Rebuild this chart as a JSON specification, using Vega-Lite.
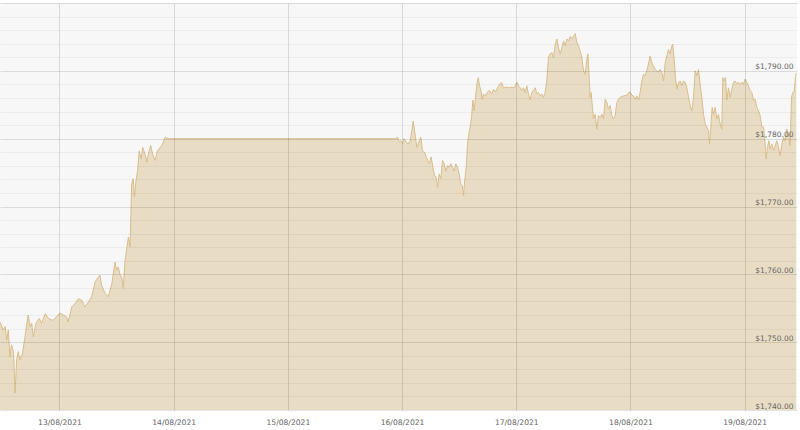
{
  "$schema": "https://vega.github.io/schema/vega-lite/v6.json",
  "width": 797,
  "height": 407,
  "autosize": {"type": "none"},
  "padding": {"left": 0, "top": 3, "right": 3, "bottom": 20},
  "background": "white",
  "config": {
    "view": {"fill": "#f7f7f7", "stroke": null},
    "font": "DejaVu Sans"
  },
  "data": {
    "values": [
      {"t": "2021-08-12T11:30", "p": 1753.0},
      {"t": "2021-08-12T12:10", "p": 1751.8},
      {"t": "2021-08-12T12:35", "p": 1752.3},
      {"t": "2021-08-12T12:55", "p": 1750.3},
      {"t": "2021-08-12T13:15", "p": 1751.8},
      {"t": "2021-08-12T13:35", "p": 1747.8},
      {"t": "2021-08-12T13:55", "p": 1749.6},
      {"t": "2021-08-12T14:20", "p": 1748.6},
      {"t": "2021-08-12T14:40", "p": 1742.5},
      {"t": "2021-08-12T15:00", "p": 1747.4},
      {"t": "2021-08-12T15:20", "p": 1748.6},
      {"t": "2021-08-12T15:40", "p": 1747.4},
      {"t": "2021-08-12T16:15", "p": 1748.4},
      {"t": "2021-08-12T16:45", "p": 1750.8},
      {"t": "2021-08-12T17:25", "p": 1754.0},
      {"t": "2021-08-12T17:50", "p": 1752.3},
      {"t": "2021-08-12T18:10", "p": 1752.8},
      {"t": "2021-08-12T18:30", "p": 1750.8},
      {"t": "2021-08-12T19:05", "p": 1752.8},
      {"t": "2021-08-12T19:45", "p": 1753.5},
      {"t": "2021-08-12T20:15", "p": 1752.8},
      {"t": "2021-08-12T21:00", "p": 1754.2},
      {"t": "2021-08-12T21:40", "p": 1753.5},
      {"t": "2021-08-12T22:40", "p": 1753.2},
      {"t": "2021-08-13T00:05", "p": 1754.3},
      {"t": "2021-08-13T00:50", "p": 1754.0},
      {"t": "2021-08-13T01:30", "p": 1753.7},
      {"t": "2021-08-13T01:50", "p": 1753.0},
      {"t": "2021-08-13T02:35", "p": 1755.2},
      {"t": "2021-08-13T03:15", "p": 1755.7},
      {"t": "2021-08-13T04:00", "p": 1756.4},
      {"t": "2021-08-13T04:40", "p": 1756.2},
      {"t": "2021-08-13T05:20", "p": 1755.2},
      {"t": "2021-08-13T06:05", "p": 1755.9},
      {"t": "2021-08-13T06:45", "p": 1756.7},
      {"t": "2021-08-13T07:30", "p": 1758.9},
      {"t": "2021-08-13T08:10", "p": 1759.6},
      {"t": "2021-08-13T08:30", "p": 1759.9},
      {"t": "2021-08-13T08:50", "p": 1758.4},
      {"t": "2021-08-13T09:35", "p": 1757.2},
      {"t": "2021-08-13T10:15", "p": 1756.7},
      {"t": "2021-08-13T11:00", "p": 1758.6},
      {"t": "2021-08-13T11:40", "p": 1761.8},
      {"t": "2021-08-13T12:00", "p": 1760.6},
      {"t": "2021-08-13T12:20", "p": 1761.1},
      {"t": "2021-08-13T12:45", "p": 1759.9},
      {"t": "2021-08-13T13:05", "p": 1759.6},
      {"t": "2021-08-13T13:25", "p": 1757.9},
      {"t": "2021-08-13T13:45", "p": 1761.8},
      {"t": "2021-08-13T14:10", "p": 1764.0},
      {"t": "2021-08-13T14:30", "p": 1765.5},
      {"t": "2021-08-13T14:50", "p": 1764.0},
      {"t": "2021-08-13T15:10", "p": 1773.3},
      {"t": "2021-08-13T15:30", "p": 1774.1},
      {"t": "2021-08-13T15:45", "p": 1771.4},
      {"t": "2021-08-13T16:05", "p": 1773.8},
      {"t": "2021-08-13T16:25", "p": 1775.3},
      {"t": "2021-08-13T16:45", "p": 1778.2},
      {"t": "2021-08-13T17:10", "p": 1777.0},
      {"t": "2021-08-13T17:30", "p": 1778.7},
      {"t": "2021-08-13T18:00", "p": 1777.7},
      {"t": "2021-08-13T18:20", "p": 1776.5},
      {"t": "2021-08-13T18:40", "p": 1777.7},
      {"t": "2021-08-13T19:10", "p": 1779.0},
      {"t": "2021-08-13T19:35", "p": 1777.7},
      {"t": "2021-08-13T20:05", "p": 1776.8},
      {"t": "2021-08-13T20:35", "p": 1778.2},
      {"t": "2021-08-13T21:10", "p": 1778.7},
      {"t": "2021-08-13T21:40", "p": 1779.2},
      {"t": "2021-08-13T22:10", "p": 1780.2},
      {"t": "2021-08-13T22:50", "p": 1780.0},
      {"t": "2021-08-15T22:33", "p": 1780.0},
      {"t": "2021-08-15T23:03", "p": 1780.2},
      {"t": "2021-08-15T23:24", "p": 1779.5},
      {"t": "2021-08-15T23:45", "p": 1779.7},
      {"t": "2021-08-16T00:06", "p": 1779.3},
      {"t": "2021-08-16T00:27", "p": 1780.0},
      {"t": "2021-08-16T00:52", "p": 1779.5},
      {"t": "2021-08-16T01:17", "p": 1779.2},
      {"t": "2021-08-16T01:42", "p": 1779.7},
      {"t": "2021-08-16T02:03", "p": 1781.2},
      {"t": "2021-08-16T02:20", "p": 1782.6},
      {"t": "2021-08-16T02:41", "p": 1780.9},
      {"t": "2021-08-16T03:06", "p": 1778.7},
      {"t": "2021-08-16T03:32", "p": 1779.5},
      {"t": "2021-08-16T03:57", "p": 1780.2},
      {"t": "2021-08-16T04:18", "p": 1778.2},
      {"t": "2021-08-16T04:43", "p": 1778.0},
      {"t": "2021-08-16T05:04", "p": 1777.3},
      {"t": "2021-08-16T05:25", "p": 1776.8},
      {"t": "2021-08-16T05:46", "p": 1776.3},
      {"t": "2021-08-16T06:07", "p": 1777.3},
      {"t": "2021-08-16T06:28", "p": 1775.8},
      {"t": "2021-08-16T06:49", "p": 1774.6},
      {"t": "2021-08-16T07:10", "p": 1774.3},
      {"t": "2021-08-16T07:27", "p": 1772.8},
      {"t": "2021-08-16T07:48", "p": 1774.8},
      {"t": "2021-08-16T08:09", "p": 1774.1},
      {"t": "2021-08-16T08:30", "p": 1776.8},
      {"t": "2021-08-16T08:51", "p": 1776.3},
      {"t": "2021-08-16T09:12", "p": 1775.2},
      {"t": "2021-08-16T09:33", "p": 1776.0},
      {"t": "2021-08-16T09:54", "p": 1775.8},
      {"t": "2021-08-16T10:15", "p": 1776.3},
      {"t": "2021-08-16T10:36", "p": 1775.8},
      {"t": "2021-08-16T10:57", "p": 1775.2},
      {"t": "2021-08-16T11:18", "p": 1776.3},
      {"t": "2021-08-16T11:39", "p": 1775.8},
      {"t": "2021-08-16T12:00", "p": 1774.8},
      {"t": "2021-08-16T12:21", "p": 1773.3},
      {"t": "2021-08-16T12:38", "p": 1773.1},
      {"t": "2021-08-16T12:55", "p": 1771.6},
      {"t": "2021-08-16T13:08", "p": 1773.6},
      {"t": "2021-08-16T13:29", "p": 1775.8},
      {"t": "2021-08-16T13:45", "p": 1779.2},
      {"t": "2021-08-16T14:02", "p": 1780.7},
      {"t": "2021-08-16T14:19", "p": 1781.7},
      {"t": "2021-08-16T14:36", "p": 1783.1},
      {"t": "2021-08-16T14:53", "p": 1785.7},
      {"t": "2021-08-16T15:09", "p": 1784.1},
      {"t": "2021-08-16T15:26", "p": 1786.1},
      {"t": "2021-08-16T15:43", "p": 1788.0},
      {"t": "2021-08-16T16:00", "p": 1789.0},
      {"t": "2021-08-16T16:17", "p": 1787.8},
      {"t": "2021-08-16T16:34", "p": 1787.1},
      {"t": "2021-08-16T16:50", "p": 1785.8},
      {"t": "2021-08-16T17:07", "p": 1786.6},
      {"t": "2021-08-16T17:32", "p": 1786.3},
      {"t": "2021-08-16T17:58", "p": 1786.9},
      {"t": "2021-08-16T18:23", "p": 1787.1},
      {"t": "2021-08-16T18:48", "p": 1786.6},
      {"t": "2021-08-16T19:13", "p": 1787.3},
      {"t": "2021-08-16T19:38", "p": 1786.9},
      {"t": "2021-08-16T20:04", "p": 1787.5},
      {"t": "2021-08-16T20:29", "p": 1788.0},
      {"t": "2021-08-16T20:54", "p": 1788.3},
      {"t": "2021-08-16T21:19", "p": 1787.5},
      {"t": "2021-08-16T21:53", "p": 1787.6},
      {"t": "2021-08-16T22:27", "p": 1787.5},
      {"t": "2021-08-16T23:00", "p": 1787.6},
      {"t": "2021-08-16T23:34", "p": 1787.5},
      {"t": "2021-08-17T00:08", "p": 1788.3},
      {"t": "2021-08-17T00:33", "p": 1787.7},
      {"t": "2021-08-17T00:49", "p": 1787.5},
      {"t": "2021-08-17T01:10", "p": 1787.1},
      {"t": "2021-08-17T01:31", "p": 1787.5},
      {"t": "2021-08-17T01:52", "p": 1786.8},
      {"t": "2021-08-17T02:13", "p": 1787.8},
      {"t": "2021-08-17T02:34", "p": 1786.6},
      {"t": "2021-08-17T02:55", "p": 1785.7},
      {"t": "2021-08-17T03:16", "p": 1786.8},
      {"t": "2021-08-17T03:37", "p": 1787.1},
      {"t": "2021-08-17T03:58", "p": 1787.5},
      {"t": "2021-08-17T04:19", "p": 1786.6},
      {"t": "2021-08-17T04:40", "p": 1786.8},
      {"t": "2021-08-17T05:01", "p": 1786.3},
      {"t": "2021-08-17T05:22", "p": 1786.6},
      {"t": "2021-08-17T05:43", "p": 1786.1},
      {"t": "2021-08-17T06:04", "p": 1786.8},
      {"t": "2021-08-17T06:25", "p": 1788.5},
      {"t": "2021-08-17T06:46", "p": 1792.0},
      {"t": "2021-08-17T07:07", "p": 1792.5},
      {"t": "2021-08-17T07:29", "p": 1792.7},
      {"t": "2021-08-17T07:49", "p": 1791.9},
      {"t": "2021-08-17T08:11", "p": 1793.9},
      {"t": "2021-08-17T08:32", "p": 1794.7},
      {"t": "2021-08-17T08:53", "p": 1793.4},
      {"t": "2021-08-17T09:14", "p": 1792.5},
      {"t": "2021-08-17T09:35", "p": 1793.4},
      {"t": "2021-08-17T09:56", "p": 1794.4},
      {"t": "2021-08-17T10:17", "p": 1793.7},
      {"t": "2021-08-17T10:38", "p": 1794.7},
      {"t": "2021-08-17T10:59", "p": 1794.4},
      {"t": "2021-08-17T11:20", "p": 1795.1},
      {"t": "2021-08-17T11:41", "p": 1794.7},
      {"t": "2021-08-17T12:02", "p": 1795.1},
      {"t": "2021-08-17T12:23", "p": 1795.5},
      {"t": "2021-08-17T12:44", "p": 1794.2},
      {"t": "2021-08-17T13:05", "p": 1793.7},
      {"t": "2021-08-17T13:26", "p": 1792.9},
      {"t": "2021-08-17T13:47", "p": 1792.0},
      {"t": "2021-08-17T14:08", "p": 1790.0},
      {"t": "2021-08-17T14:29", "p": 1789.5},
      {"t": "2021-08-17T14:50", "p": 1791.7},
      {"t": "2021-08-17T15:03", "p": 1792.5},
      {"t": "2021-08-17T15:15", "p": 1790.0},
      {"t": "2021-08-17T15:32", "p": 1786.1},
      {"t": "2021-08-17T15:44", "p": 1786.8},
      {"t": "2021-08-17T16:01", "p": 1784.6},
      {"t": "2021-08-17T16:14", "p": 1782.9},
      {"t": "2021-08-17T16:35", "p": 1783.6},
      {"t": "2021-08-17T16:56", "p": 1781.4},
      {"t": "2021-08-17T17:17", "p": 1783.4},
      {"t": "2021-08-17T17:38", "p": 1783.1},
      {"t": "2021-08-17T17:59", "p": 1783.6},
      {"t": "2021-08-17T18:20", "p": 1782.9},
      {"t": "2021-08-17T18:41", "p": 1785.8},
      {"t": "2021-08-17T19:02", "p": 1785.3},
      {"t": "2021-08-17T19:23", "p": 1784.4},
      {"t": "2021-08-17T19:44", "p": 1784.9},
      {"t": "2021-08-17T20:05", "p": 1783.4},
      {"t": "2021-08-17T20:26", "p": 1782.9},
      {"t": "2021-08-17T20:47", "p": 1783.4},
      {"t": "2021-08-17T21:08", "p": 1785.3},
      {"t": "2021-08-17T21:29", "p": 1785.8},
      {"t": "2021-08-17T21:50", "p": 1786.1},
      {"t": "2021-08-17T22:32", "p": 1786.3},
      {"t": "2021-08-17T23:14", "p": 1786.4},
      {"t": "2021-08-17T23:35", "p": 1786.8},
      {"t": "2021-08-17T23:56", "p": 1786.9},
      {"t": "2021-08-18T00:17", "p": 1786.4},
      {"t": "2021-08-18T00:38", "p": 1786.3},
      {"t": "2021-08-18T00:59", "p": 1785.8},
      {"t": "2021-08-18T01:20", "p": 1786.3},
      {"t": "2021-08-18T01:41", "p": 1785.7},
      {"t": "2021-08-18T02:02", "p": 1786.8},
      {"t": "2021-08-18T02:23", "p": 1788.5},
      {"t": "2021-08-18T02:44", "p": 1789.5},
      {"t": "2021-08-18T03:05", "p": 1789.3},
      {"t": "2021-08-18T03:26", "p": 1790.0},
      {"t": "2021-08-18T03:47", "p": 1791.0},
      {"t": "2021-08-18T04:08", "p": 1792.2},
      {"t": "2021-08-18T04:30", "p": 1791.2},
      {"t": "2021-08-18T04:50", "p": 1790.7},
      {"t": "2021-08-18T05:12", "p": 1790.2},
      {"t": "2021-08-18T05:33", "p": 1790.0},
      {"t": "2021-08-18T05:54", "p": 1789.8},
      {"t": "2021-08-18T06:15", "p": 1790.2},
      {"t": "2021-08-18T06:36", "p": 1789.7},
      {"t": "2021-08-18T06:57", "p": 1788.5},
      {"t": "2021-08-18T07:18", "p": 1791.2},
      {"t": "2021-08-18T07:39", "p": 1792.2},
      {"t": "2021-08-18T08:00", "p": 1793.2},
      {"t": "2021-08-18T08:21", "p": 1792.5},
      {"t": "2021-08-18T08:42", "p": 1793.7},
      {"t": "2021-08-18T08:54", "p": 1793.9},
      {"t": "2021-08-18T09:11", "p": 1791.7},
      {"t": "2021-08-18T09:28", "p": 1789.0},
      {"t": "2021-08-18T09:45", "p": 1787.3},
      {"t": "2021-08-18T10:06", "p": 1788.3},
      {"t": "2021-08-18T10:27", "p": 1788.5},
      {"t": "2021-08-18T10:48", "p": 1787.8},
      {"t": "2021-08-18T11:09", "p": 1788.5},
      {"t": "2021-08-18T11:30", "p": 1788.3},
      {"t": "2021-08-18T11:51", "p": 1787.5},
      {"t": "2021-08-18T12:12", "p": 1786.1},
      {"t": "2021-08-18T12:33", "p": 1784.9},
      {"t": "2021-08-18T12:54", "p": 1784.1},
      {"t": "2021-08-18T13:15", "p": 1786.1},
      {"t": "2021-08-18T13:36", "p": 1790.0},
      {"t": "2021-08-18T13:57", "p": 1789.3},
      {"t": "2021-08-18T14:18", "p": 1790.2},
      {"t": "2021-08-18T14:39", "p": 1788.0},
      {"t": "2021-08-18T15:00", "p": 1786.1},
      {"t": "2021-08-18T15:21", "p": 1783.6},
      {"t": "2021-08-18T15:42", "p": 1782.2},
      {"t": "2021-08-18T16:03", "p": 1781.7},
      {"t": "2021-08-18T16:24", "p": 1781.2},
      {"t": "2021-08-18T16:37", "p": 1779.2},
      {"t": "2021-08-18T16:53", "p": 1781.7},
      {"t": "2021-08-18T17:10", "p": 1784.6},
      {"t": "2021-08-18T17:27", "p": 1783.6},
      {"t": "2021-08-18T17:48", "p": 1784.6},
      {"t": "2021-08-18T18:09", "p": 1782.9},
      {"t": "2021-08-18T18:30", "p": 1783.6},
      {"t": "2021-08-18T18:51", "p": 1782.2},
      {"t": "2021-08-18T19:12", "p": 1781.4},
      {"t": "2021-08-18T19:25", "p": 1789.0},
      {"t": "2021-08-18T19:42", "p": 1788.5},
      {"t": "2021-08-18T19:58", "p": 1789.0},
      {"t": "2021-08-18T20:15", "p": 1785.7},
      {"t": "2021-08-18T20:36", "p": 1787.5},
      {"t": "2021-08-18T20:57", "p": 1786.1},
      {"t": "2021-08-18T21:18", "p": 1787.3},
      {"t": "2021-08-18T21:39", "p": 1788.3},
      {"t": "2021-08-18T22:00", "p": 1788.5},
      {"t": "2021-08-18T22:21", "p": 1788.1},
      {"t": "2021-08-18T22:42", "p": 1788.3},
      {"t": "2021-08-18T23:03", "p": 1788.0},
      {"t": "2021-08-18T23:24", "p": 1788.3},
      {"t": "2021-08-18T23:45", "p": 1788.0},
      {"t": "2021-08-19T00:06", "p": 1788.8},
      {"t": "2021-08-19T00:27", "p": 1788.3},
      {"t": "2021-08-19T00:48", "p": 1787.8},
      {"t": "2021-08-19T01:09", "p": 1787.1},
      {"t": "2021-08-19T01:30", "p": 1786.8},
      {"t": "2021-08-19T01:51", "p": 1785.7},
      {"t": "2021-08-19T02:12", "p": 1785.8},
      {"t": "2021-08-19T02:34", "p": 1784.6},
      {"t": "2021-08-19T02:54", "p": 1784.1},
      {"t": "2021-08-19T03:16", "p": 1783.4},
      {"t": "2021-08-19T03:37", "p": 1781.7},
      {"t": "2021-08-19T03:58", "p": 1781.7},
      {"t": "2021-08-19T04:19", "p": 1779.2},
      {"t": "2021-08-19T04:31", "p": 1777.0},
      {"t": "2021-08-19T04:48", "p": 1778.7},
      {"t": "2021-08-19T05:05", "p": 1779.7},
      {"t": "2021-08-19T05:22", "p": 1778.5},
      {"t": "2021-08-19T05:43", "p": 1779.2},
      {"t": "2021-08-19T06:04", "p": 1778.2},
      {"t": "2021-08-19T06:25", "p": 1779.0},
      {"t": "2021-08-19T06:46", "p": 1779.7},
      {"t": "2021-08-19T07:07", "p": 1778.7},
      {"t": "2021-08-19T07:28", "p": 1777.5},
      {"t": "2021-08-19T07:49", "p": 1779.2},
      {"t": "2021-08-19T08:10", "p": 1780.2},
      {"t": "2021-08-19T08:31", "p": 1779.7},
      {"t": "2021-08-19T08:52", "p": 1781.4},
      {"t": "2021-08-19T09:13", "p": 1780.7},
      {"t": "2021-08-19T09:34", "p": 1779.0},
      {"t": "2021-08-19T09:51", "p": 1786.1},
      {"t": "2021-08-19T10:07", "p": 1786.8},
      {"t": "2021-08-19T10:24", "p": 1786.9},
      {"t": "2021-08-19T10:37", "p": 1788.5},
      {"t": "2021-08-19T10:49", "p": 1789.7}
    ]
  },
  "mark": {
    "type": "area",
    "color": "#e9dcc4",
    "opacity": 1,
    "clip": true,
    "line": {"color": "#d9bf8b", "strokeWidth": 1}
  },
  "encoding": {
    "x": {
      "field": "t",
      "type": "temporal",
      "scale": {
        "domain": [
          {"year": 2021, "month": 8, "date": 12, "hours": 11, "minutes": 30},
          {"year": 2021, "month": 8, "date": 19, "hours": 11, "minutes": 0}
        ]
      },
      "axis": {
        "title": null,
        "format": "%d/%m/%Y",
        "values": [
          {"year": 2021, "month": 8, "date": 13},
          {"year": 2021, "month": 8, "date": 14},
          {"year": 2021, "month": 8, "date": 15},
          {"year": 2021, "month": 8, "date": 16},
          {"year": 2021, "month": 8, "date": 17},
          {"year": 2021, "month": 8, "date": 18},
          {"year": 2021, "month": 8, "date": 19}
        ],
        "domain": false,
        "ticks": false,
        "labelPadding": 8,
        "labelFontSize": 7.6,
        "labelColor": "#666666",
        "labelFlush": false,
        "gridColor": "#000000",
        "gridOpacity": 0.12,
        "zindex": 1
      }
    },
    "y": {
      "field": "p",
      "type": "quantitative",
      "scale": {"domain": [1740, 1800], "zero": false, "nice": false},
      "axis": {
        "orient": "right",
        "title": null,
        "values": [1740, 1742, 1744, 1746, 1748, 1750, 1752, 1754, 1756, 1758, 1760, 1762, 1764, 1766, 1768, 1770, 1772, 1774, 1776, 1778, 1780, 1782, 1784, 1786, 1788, 1790, 1792, 1794, 1796, 1798, 1800],
        "domain": false,
        "ticks": false,
        "labelAlign": "right",
        "labelBaseline": "alphabetic",
        "labelPadding": -4,
        "labelOffset": -2,
        "labelFontSize": 7.5,
        "labelColor": "#666666",
        "labelOverlap": false,
        "labelBound": false,
        "labelExpr": "datum.value % 10 === 0 && datum.value < 1800 ? format(datum.value, '$,.2f') : ''",
        "gridColor": "#000000",
        "gridOpacity": {"condition": {"test": "datum.value % 10 === 0", "value": 0.11}, "value": 0.045},
        "zindex": 1
      }
    }
  }
}
